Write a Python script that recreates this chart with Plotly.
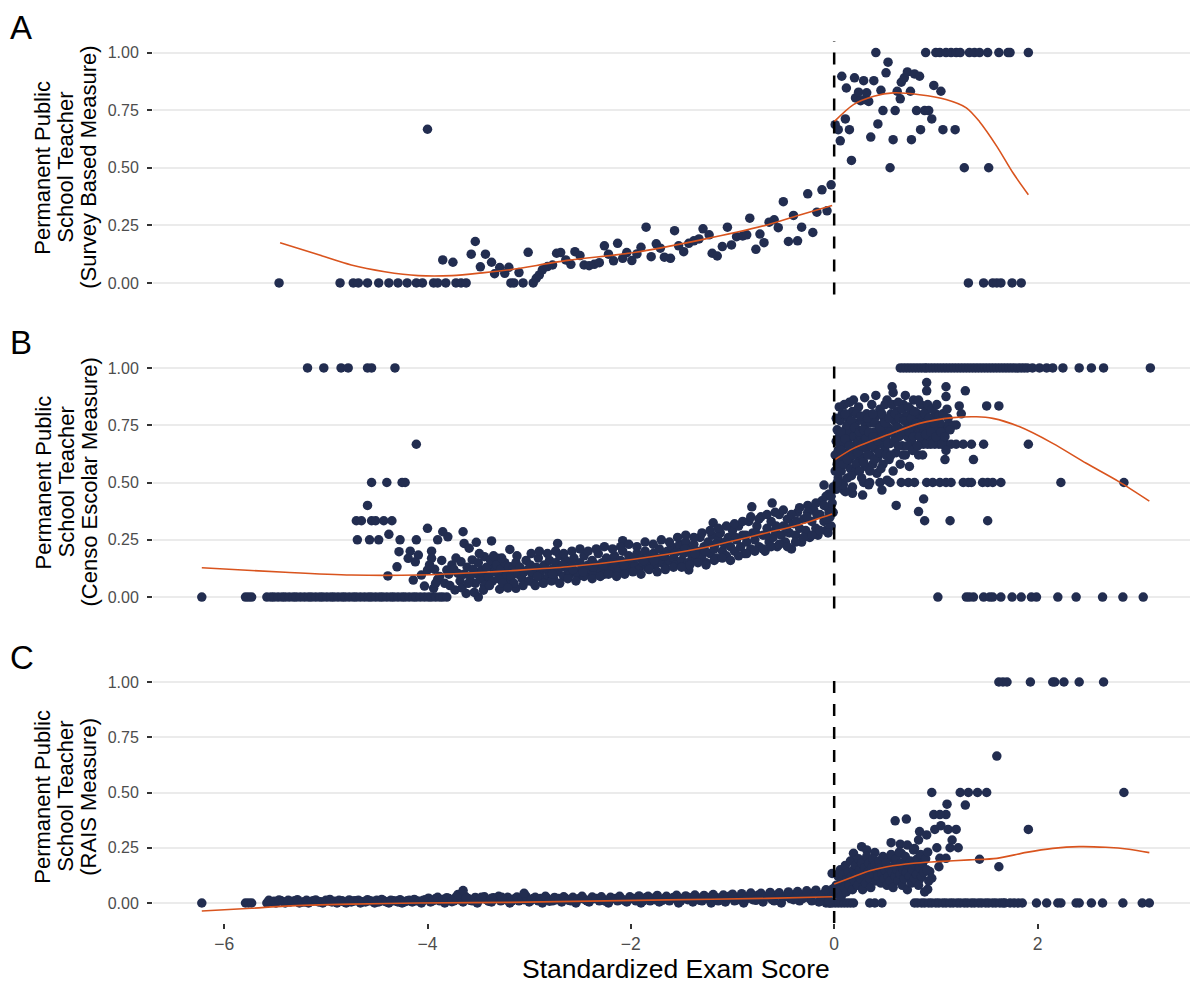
import plotly.graph_objects as go

# ---------------- data ----------------
# Panel A : Survey based measure
A_zero_x = [-5.46, -4.86, -4.73, -4.68, -4.59, -4.48, -4.38, -4.29, -4.20, -4.11, -4.05, -3.94,
            -3.90, -3.82, -3.72, -3.67, -3.62, -3.18, -3.15, -3.06, -2.96,
            1.32, 1.47, 1.56, 1.60, 1.64, 1.75, 1.84]
A_one_x = [0.41, 0.90, 1.00, 1.04, 1.10, 1.15, 1.20, 1.24, 1.33, 1.38, 1.43, 1.51, 1.62, 1.71, 1.73, 1.91]
A_pts = [(-4.00, 0.667), (-3.85, 0.10), (-3.75, 0.09), (-3.57, 0.125), (-3.53, 0.18), (-3.43, 0.125),
         (-3.48, 0.07), (-3.37, 0.09), (-3.34, 0.04), (-3.29, 0.067), (-3.24, 0.042), (-3.20, 0.068),
         (-3.10, 0.045), (-3.01, 0.133), (-2.93, 0.02), (-2.90, 0.035), (-2.87, 0.057), (-2.82, 0.071),
         (-2.77, 0.078), (-2.73, 0.129), (-2.69, 0.132), (-2.64, 0.10), (-2.59, 0.081), (-2.55, 0.136),
         (-2.50, 0.119), (-2.46, 0.078), (-2.41, 0.075), (-2.36, 0.081), (-2.31, 0.088), (-2.26, 0.161),
         (-2.22, 0.125), (-2.17, 0.096), (-2.13, 0.172), (-2.08, 0.107), (-2.04, 0.132), (-1.99, 0.097),
         (-1.94, 0.126), (-1.90, 0.155), (-1.85, 0.242), (-1.80, 0.114), (-1.75, 0.170), (-1.71, 0.151),
         (-1.67, 0.112), (-1.61, 0.107), (-1.57, 0.227), (-1.53, 0.161), (-1.48, 0.136), (-1.43, 0.172),
         (-1.38, 0.183), (-1.33, 0.191), (-1.29, 0.235), (-1.23, 0.209), (-1.20, 0.129), (-1.15, 0.117),
         (-1.10, 0.158), (-1.05, 0.242), (-1.01, 0.165), (-0.96, 0.201), (-0.90, 0.204), (-0.86, 0.209),
         (-0.83, 0.281), (-0.77, 0.146), (-0.73, 0.212), (-0.69, 0.175), (-0.64, 0.264), (-0.59, 0.274),
         (-0.55, 0.240), (-0.50, 0.353), (-0.45, 0.180), (-0.40, 0.293), (-0.36, 0.183), (-0.32, 0.242),
         (-0.26, 0.387), (-0.21, 0.219), (-0.17, 0.307), (-0.12, 0.404), (-0.07, 0.313), (-0.03, 0.426),
         (0.01, 0.687), (0.04, 0.665), (0.06, 0.617), (0.075, 0.897), (0.11, 0.712), (0.12, 0.846),
         (0.15, 0.665), (0.17, 0.532), (0.20, 0.89), (0.21, 0.803), (0.24, 0.828), (0.26, 0.791),
         (0.29, 0.878), (0.30, 0.796), (0.32, 0.825), (0.34, 0.788), (0.36, 0.633), (0.39, 0.878),
         (0.43, 0.69), (0.46, 0.836), (0.48, 0.748), (0.51, 0.912), (0.53, 0.958), (0.55, 0.5),
         (0.58, 0.622), (0.60, 0.748), (0.62, 0.832), (0.65, 0.799), (0.66, 0.871), (0.69, 0.89),
         (0.72, 0.916), (0.75, 0.832), (0.76, 0.622), (0.79, 0.907), (0.81, 0.748), (0.84, 0.897),
         (0.85, 0.665), (0.89, 0.748), (0.93, 0.748), (0.96, 0.712), (0.98, 0.857), (1.05, 0.832),
         (1.07, 0.665), (1.19, 0.665), (1.28, 0.5), (1.52, 0.5)]
A_fit_left_x = [-5.45, -5.07, -4.75, -4.42, -4.09, -3.76, -3.44, -3.18, -2.62, -1.97, -1.31, -0.66, -0.33, -0.02]
A_fit_left_y = [0.175, 0.122, 0.078, 0.049, 0.032, 0.032, 0.045, 0.058, 0.098, 0.132, 0.187, 0.252, 0.296, 0.336]
A_fit_right_x = [0.0, 0.19, 0.39, 0.58, 0.84, 1.10, 1.30, 1.43, 1.60, 1.76, 1.91]
A_fit_right_y = [0.70, 0.774, 0.81, 0.825, 0.817, 0.796, 0.76, 0.70, 0.593, 0.477, 0.383]

# Panel B : Censo Escolar measure
B_zero_x = [-6.22, -5.79, -5.76, -5.73, -5.58, -5.54, -5.51, -5.47, -5.43, -5.40, -5.36, -5.32, -5.29,
            -5.25, -5.21, -5.17, -5.14, -5.10, -5.06, -5.03, -4.99, -4.95, -4.92, -4.88, -4.84, -4.81,
            -4.77, -4.73, -4.70, -4.66, -4.62, -4.58, -4.55, -4.51, -4.47, -4.44, -4.40, -4.36, -4.33,
            -4.29, -4.25, -4.22, -4.18, -4.14, -4.11, -4.07, -4.03, -3.99, -3.96, -3.92, -3.88, -3.85,
            -3.81, -3.50, 1.02, 1.30, 1.33, 1.37, 1.47, 1.53, 1.56, 1.64, 1.75, 1.84, 1.94, 1.99, 2.20,
            2.38, 2.64, 2.84, 3.04]
B_one_x = [-5.18, -5.02, -4.85, -4.78, -4.59, -4.55, -4.32,
           0.65, 0.68, 0.71, 0.74, 0.77, 0.80, 0.83, 0.86, 0.89, 0.91, 0.94, 0.97, 1.00, 1.03, 1.06,
           1.09, 1.12, 1.15, 1.18, 1.21, 1.24, 1.27, 1.30, 1.33, 1.36, 1.39, 1.42, 1.45, 1.48, 1.51,
           1.54, 1.57, 1.60, 1.63, 1.66, 1.69, 1.72, 1.75, 1.78, 1.81, 1.84, 1.87, 1.90, 1.95, 2.02,
           2.09, 2.15, 2.25, 2.41, 2.53, 2.65, 3.11]
B_half_x = [-4.55, -4.40, -4.25, -4.22, 0.29, 0.35, 0.45, 0.55, 0.66, 0.73, 0.79, 0.91, 0.97, 1.04,
            1.10, 1.15, 1.27, 1.32, 1.35, 1.46, 1.51, 1.56, 1.64, 2.23, 2.85]
B_twothird_x = [-4.11, 0.85, 0.88, 0.92, 0.95, 0.99, 1.03, 1.06, 1.10, 1.15, 1.20, 1.27, 1.35, 1.47, 1.91]
B_third_x = [-4.70, -4.65, -4.55, -4.51, -4.43, -4.35, 0.89, 1.14, 1.51]
B_quarter_x = [-4.69, -4.57, -4.48, -4.27, -4.11, -3.90]
B_pts = [(-4.59, 0.40), (-4.38, 0.274), (-4.00, 0.30), (-3.85, 0.285), (-3.80, 0.263), (-3.65, 0.285),
         (-3.64, 0.234), (-3.52, 0.239), (-3.37, 0.245), (-4.28, 0.198), (-4.17, 0.20), (-4.09, 0.183),
         (-3.96, 0.20), (-3.96, 0.169), (-4.19, 0.169), (-4.12, 0.154), (-4.30, 0.132), (-4.39, 0.092),
         (-4.14, 0.074), (-4.06, 0.096), (-4.03, 0.048), (-4.00, 0.118), (-3.93, 0.121), (-3.94, 0.038),
         (-3.90, 0.077), (-3.83, 0.06), (-3.81, 0.118), (-3.76, 0.14), (-3.73, 0.031), (-3.70, 0.103),
         (-3.67, 0.154), (-3.62, 0.016), (-3.59, 0.213), (-3.56, 0.162), (-3.52, 0.103), (-3.47, 0.118),
         (-3.44, 0.176), (-3.41, 0.074), (-3.37, 0.132), (-3.31, 0.169), (-3.29, 0.034), (-3.26, 0.103),
         (-3.24, 0.074), (-3.19, 0.208), (-3.19, 0.132), (-3.88, 0.09), (-3.78, 0.05), (-3.74, 0.12),
         (-3.68, 0.07), (-3.64, 0.10), (-3.61, 0.13), (-3.13, 0.038), (-3.18, 0.074),
         (-3.58, 0.09), (-3.55, 0.12), (-3.53, 0.06), (-3.50, 0.15), (-3.48, 0.08), (-3.46, 0.11),
         (-3.44, 0.05), (-3.42, 0.13), (-3.40, 0.09), (-3.38, 0.16), (-3.36, 0.07), (-3.34, 0.11),
         (-3.32, 0.14), (-3.30, 0.08), (-3.28, 0.12), (-3.26, 0.06), (-3.24, 0.15), (-3.22, 0.10),
         (-3.20, 0.13), (-3.18, 0.09), (-3.16, 0.12), (-3.15, 0.06), (-3.13, 0.15), (-3.11, 0.10),
         (-3.09, 0.13), (-3.07, 0.08), (-3.05, 0.11), (-3.03, 0.16), (-3.01, 0.12), (-3.00, 0.07),
         (-2.99, 0.14), (-2.97, 0.10), (-2.95, 0.06), (-2.93, 0.13), (-2.91, 0.17), (-2.89, 0.11),
         (-2.87, 0.08), (-2.85, 0.14), (-2.83, 0.12), (-2.81, 0.09), (-2.80, 0.16), (-2.78, 0.12),
         (-2.76, 0.08), (-2.74, 0.15), (-2.72, 0.11), (-2.70, 0.18), (-2.68, 0.13), (-2.66, 0.09),
         (-2.64, 0.16), (-2.62, 0.12), (-2.60, 0.10), (-2.58, 0.14), (-2.56, 0.17), (-2.54, 0.11),
         (-2.52, 0.09), (-2.50, 0.15), (-2.48, 0.13), (-2.46, 0.18), (-2.44, 0.10), (-2.42, 0.14),
         (-2.40, 0.12), (-2.38, 0.16), (-2.36, 0.11), (-2.34, 0.14), (-2.32, 0.19), (-2.30, 0.12),
         (-2.28, 0.15), (-2.26, 0.10), (-2.24, 0.17), (-2.22, 0.13), (-2.20, 0.15), (-2.18, 0.12),
         (-2.16, 0.18), (-2.14, 0.14), (-2.12, 0.11), (-2.10, 0.16), (-2.08, 0.20), (-2.06, 0.13),
         (-2.04, 0.15), (-2.02, 0.18), (-2.00, 0.12), (-1.98, 0.16), (-1.96, 0.14), (-1.94, 0.19),
         (-1.92, 0.12), (-1.90, 0.17), (-1.88, 0.15), (-1.86, 0.20), (-1.84, 0.13), (-1.82, 0.17),
         (-1.80, 0.15), (-1.78, 0.19), (-1.76, 0.14), (-1.74, 0.17), (-1.72, 0.21), (-1.70, 0.15),
         (-1.68, 0.18), (-1.66, 0.13), (-1.64, 0.20), (-1.62, 0.16), (-1.60, 0.22), (-1.58, 0.17),
         (-1.56, 0.14), (-1.54, 0.20), (-1.52, 0.23), (-1.50, 0.16), (-1.48, 0.19), (-1.46, 0.24),
         (-1.44, 0.15), (-1.42, 0.21), (-1.40, 0.18), (-1.38, 0.23), (-1.36, 0.16), (-1.34, 0.20),
         (-1.32, 0.26), (-1.30, 0.18), (-1.28, 0.22), (-1.26, 0.15), (-1.24, 0.24), (-1.22, 0.19),
         (-1.20, 0.27), (-1.18, 0.21), (-1.16, 0.17), (-1.14, 0.25), (-1.12, 0.28), (-1.10, 0.20),
         (-1.08, 0.23), (-1.06, 0.18), (-1.04, 0.26), (-1.02, 0.22), (-1.00, 0.29), (-0.98, 0.20),
         (-0.96, 0.25), (-0.94, 0.31), (-0.92, 0.22), (-0.90, 0.27), (-0.88, 0.19), (-0.86, 0.24),
         (-0.84, 0.33), (-0.82, 0.21), (-0.80, 0.28), (-0.78, 0.25), (-0.76, 0.31), (-0.74, 0.22),
         (-0.72, 0.35), (-0.70, 0.27), (-0.68, 0.20), (-0.66, 0.30), (-0.64, 0.24), (-0.62, 0.33),
         (-0.60, 0.26), (-0.58, 0.29), (-0.56, 0.22), (-0.54, 0.36), (-0.52, 0.27), (-0.50, 0.31),
         (-0.48, 0.24), (-0.46, 0.34), (-0.44, 0.28), (-0.42, 0.21), (-0.40, 0.32), (-0.38, 0.27),
         (-0.36, 0.37), (-0.34, 0.30), (-0.32, 0.24), (-0.30, 0.34), (-0.28, 0.29), (-0.26, 0.40),
         (-0.24, 0.26), (-0.22, 0.33), (-0.20, 0.38), (-0.18, 0.30), (-0.16, 0.27), (-0.14, 0.36),
         (-0.12, 0.42), (-0.10, 0.33), (-0.08, 0.29), (-0.06, 0.39), (-0.05, 0.45), (-0.04, 0.35),
         (-0.03, 0.31), (-0.02, 0.41), (-0.01, 0.37), (-0.01, 0.48),
         (-2.72, 0.234), (-2.08, 0.246), (-1.43, 0.118), (-1.19, 0.324), (-0.10, 0.489), (-0.61, 0.41),
         (-0.81, 0.394), (-0.08, 0.44), (-0.05, 0.37), (-0.04, 0.31),
         (0.61, 0.40), (0.83, 0.373), (0.88, 0.428), (1.09, 0.60), (1.37, 0.60), (1.50, 0.834),
         (1.62, 0.834), (1.29, 0.90), (1.10, 0.918), (1.10, 0.875), (0.91, 0.936), (0.91, 0.90),
         (1.23, 0.834), (1.25, 0.80), (1.20, 0.751), (0.57, 0.918), (0.58, 0.892), (0.28, 0.445),
         (0.18, 0.453), (0.10, 0.464), (0.47, 0.467), (0.06, 0.50), (0.11, 0.46), (0.52, 0.51),
         (1.00, 0.75), (1.05, 0.75), (1.12, 0.75), (1.17, 0.75),
         (0.01, 0.62), (0.01, 0.55), (0.02, 0.68), (0.02, 0.47), (0.03, 0.73), (0.03, 0.58), (0.04, 0.64),
         (0.04, 0.52), (0.05, 0.70), (0.05, 0.60), (0.06, 0.77), (0.06, 0.66), (0.07, 0.55), (0.08, 0.80),
         (0.08, 0.62), (0.09, 0.71), (0.09, 0.49), (0.10, 0.84), (0.10, 0.67), (0.11, 0.58), (0.12, 0.74),
         (0.12, 0.63), (0.13, 0.52), (0.14, 0.69), (0.14, 0.78), (0.15, 0.60), (0.16, 0.72), (0.16, 0.56),
         (0.17, 0.65), (0.18, 0.81), (0.18, 0.48), (0.19, 0.70), (0.20, 0.62), (0.21, 0.76), (0.21, 0.55),
         (0.22, 0.67), (0.23, 0.73), (0.24, 0.59), (0.24, 0.83), (0.25, 0.64), (0.26, 0.70), (0.27, 0.52),
         (0.28, 0.77), (0.28, 0.61), (0.29, 0.68), (0.30, 0.74), (0.31, 0.57), (0.32, 0.80), (0.32, 0.65),
         (0.33, 0.71), (0.34, 0.49), (0.35, 0.62), (0.36, 0.76), (0.36, 0.68), (0.37, 0.84), (0.38, 0.58),
         (0.39, 0.72), (0.40, 0.65), (0.41, 0.79), (0.42, 0.54), (0.42, 0.70), (0.43, 0.61), (0.44, 0.75),
         (0.45, 0.82), (0.46, 0.67), (0.47, 0.72), (0.48, 0.58), (0.49, 0.78), (0.50, 0.64), (0.51, 0.70),
         (0.52, 0.86), (0.53, 0.74), (0.54, 0.60), (0.55, 0.67), (0.56, 0.80), (0.57, 0.72), (0.58, 0.55),
         (0.59, 0.77), (0.60, 0.69), (0.61, 0.63), (0.62, 0.81), (0.63, 0.74), (0.64, 0.70), (0.65, 0.58),
         (0.66, 0.78), (0.67, 0.66), (0.68, 0.84), (0.69, 0.73), (0.70, 0.62), (0.71, 0.79), (0.72, 0.70),
         (0.73, 0.76), (0.74, 0.57), (0.75, 0.82), (0.76, 0.68), (0.77, 0.74), (0.78, 0.86), (0.79, 0.65),
         (0.80, 0.77), (0.81, 0.71), (0.82, 0.80), (0.83, 0.62), (0.84, 0.74), (0.85, 0.84), (0.86, 0.68),
         (0.87, 0.78), (0.88, 0.72), (0.90, 0.81), (0.91, 0.67), (0.92, 0.75), (0.94, 0.70), (0.95, 0.78),
         (0.97, 0.67), (0.98, 0.73), (1.00, 0.80), (1.02, 0.69), (1.04, 0.76), (1.06, 0.67), (1.08, 0.72),
         (1.10, 0.64), (1.12, 0.78)]
# extra points that thicken the band below the cutoff and the cloud above it
B_pts_extra = [(-2.98, 0.19), (-2.94, 0.05), (-2.90, 0.20), (-2.86, 0.06), (-2.82, 0.19), (-2.78, 0.07),
               (-2.74, 0.20), (-2.70, 0.06), (-2.66, 0.19), (-2.62, 0.08), (-2.58, 0.20), (-2.54, 0.07),
               (-2.50, 0.21), (-2.46, 0.09), (-2.42, 0.20), (-2.38, 0.08), (-2.34, 0.21), (-2.30, 0.09),
               (-2.26, 0.22), (-2.22, 0.10), (-2.18, 0.21), (-2.14, 0.09), (-2.10, 0.22), (-2.06, 0.10),
               (-2.02, 0.23), (-1.98, 0.11), (-1.94, 0.22), (-1.90, 0.10), (-1.86, 0.24), (-1.82, 0.12),
               (-1.78, 0.23), (-1.74, 0.11), (-1.70, 0.25), (-1.66, 0.12), (-1.62, 0.24), (-1.58, 0.13),
               (-1.54, 0.26), (-1.50, 0.13), (-1.46, 0.27), (-1.42, 0.14), (-1.38, 0.26), (-1.34, 0.15),
               (-1.30, 0.28), (-1.26, 0.14), (-1.22, 0.29), (-1.18, 0.16), (-1.14, 0.30), (-1.10, 0.17),
               (-1.06, 0.31), (-1.02, 0.16), (-0.98, 0.32), (-0.94, 0.18), (-0.90, 0.33), (-0.86, 0.19),
               (-0.82, 0.35), (-0.78, 0.20), (-0.74, 0.34), (-0.70, 0.21), (-0.66, 0.36), (-0.62, 0.22),
               (-0.58, 0.37), (-0.54, 0.23), (-0.50, 0.38), (-0.46, 0.22), (-0.42, 0.36), (-0.38, 0.24),
               (-0.34, 0.39), (-0.30, 0.26), (-0.26, 0.37), (-0.22, 0.27), (-0.18, 0.41), (-0.14, 0.29),
               (-0.10, 0.40), (-0.06, 0.28), (-0.03, 0.44),
               (-2.97, 0.11), (-2.92, 0.09), (-2.87, 0.13), (-2.77, 0.10), (-2.67, 0.14), (-2.57, 0.12),
               (-2.47, 0.11), (-2.37, 0.13), (-2.27, 0.14), (-2.17, 0.15), (-2.07, 0.14), (-1.97, 0.17),
               (-1.87, 0.16), (-1.77, 0.16), (-1.67, 0.18), (-1.57, 0.19), (-1.47, 0.21), (-1.37, 0.19),
               (-1.27, 0.20), (-1.17, 0.23), (-1.07, 0.24), (-0.97, 0.26), (-0.87, 0.27), (-0.77, 0.28),
               (-0.67, 0.27), (-0.57, 0.31), (-0.47, 0.30), (-0.37, 0.33), (-0.27, 0.35), (-0.17, 0.36),
               (-0.07, 0.34),
               (-3.98, 0.14), (-3.92, 0.06), (-3.86, 0.16), (-3.79, 0.10), (-3.72, 0.17), (-3.66, 0.04),
               (-3.60, 0.06), (-3.54, 0.02), (-3.49, 0.19), (-3.45, 0.03), (-3.39, 0.05), (-3.35, 0.18),
               (-3.27, 0.17), (-3.21, 0.04), (-3.12, 0.18), (-3.06, 0.05),
               (0.02, 0.78), (0.03, 0.50), (0.05, 0.83), (0.07, 0.72), (0.07, 0.64), (0.09, 0.58),
               (0.11, 0.80), (0.11, 0.69), (0.13, 0.75), (0.13, 0.60), (0.15, 0.85), (0.15, 0.66),
               (0.17, 0.77), (0.17, 0.53), (0.19, 0.62), (0.19, 0.86), (0.20, 0.74), (0.22, 0.58),
               (0.22, 0.80), (0.23, 0.63), (0.25, 0.72), (0.25, 0.55), (0.26, 0.79), (0.27, 0.66),
               (0.29, 0.73), (0.29, 0.59), (0.30, 0.87), (0.31, 0.69), (0.33, 0.62), (0.33, 0.78),
               (0.34, 0.72), (0.35, 0.55), (0.37, 0.66), (0.38, 0.80), (0.38, 0.70), (0.40, 0.60),
               (0.40, 0.76), (0.41, 0.88), (0.43, 0.68), (0.44, 0.63), (0.45, 0.74), (0.46, 0.56),
               (0.47, 0.80), (0.48, 0.70), (0.50, 0.76), (0.50, 0.84), (0.51, 0.62), (0.53, 0.67),
               (0.54, 0.78), (0.55, 0.72), (0.56, 0.62), (0.57, 0.84), (0.59, 0.68), (0.60, 0.80),
               (0.61, 0.74), (0.63, 0.66), (0.63, 0.85), (0.64, 0.78), (0.66, 0.72), (0.67, 0.82),
               (0.68, 0.62), (0.69, 0.77), (0.70, 0.88), (0.72, 0.66), (0.73, 0.83), (0.74, 0.72),
               (0.76, 0.78), (0.77, 0.64), (0.78, 0.70), (0.79, 0.81), (0.81, 0.76), (0.82, 0.66),
               (0.83, 0.86), (0.84, 0.70), (0.86, 0.75), (0.87, 0.62), (0.89, 0.80), (0.90, 0.71),
               (0.92, 0.84), (0.93, 0.78), (0.95, 0.72), (0.96, 0.82), (0.98, 0.76), (1.00, 0.70),
               (1.01, 0.84), (1.03, 0.79), (1.05, 0.72), (1.07, 0.80), (1.09, 0.70), (1.11, 0.82),
               (1.14, 0.73)]
B_fit_left_x = [-6.22, -5.40, -4.75, -4.09, -3.44, -3.18, -2.62, -1.97, -1.31, -0.66, -0.33, -0.02]
B_fit_left_y = [0.128, 0.108, 0.096, 0.096, 0.108, 0.115, 0.132, 0.165, 0.213, 0.281, 0.317, 0.362]
B_fit_right_x = [0.0, 0.19, 0.52, 0.84, 1.17, 1.40, 1.56, 1.82, 2.15, 2.48, 2.80, 3.10]
B_fit_right_y = [0.598, 0.649, 0.707, 0.758, 0.783, 0.787, 0.78, 0.744, 0.671, 0.584, 0.504, 0.419]

# Panel C : RAIS measure
C_zero_x = [-6.22, -5.79, -5.76, -5.73,
            -0.08, -0.05, -0.02, 0.01, 0.04, 0.07, 0.10, 0.13, 0.16, 0.19, 0.35, 0.40, 0.47,
            0.79, 0.82, 0.86, 0.89, 0.93, 0.96, 1.00, 1.03, 1.07, 1.10, 1.14, 1.17, 1.21, 1.24, 1.28,
            1.31, 1.35, 1.38, 1.42, 1.45, 1.49, 1.52, 1.56, 1.59, 1.63, 1.66, 1.68, 1.73, 1.77, 1.81,
            1.85, 1.99, 2.09, 2.20, 2.23, 2.38, 2.41, 2.53, 2.64, 2.84, 3.03, 3.10]
C_one_x = [1.62, 1.66, 1.70, 1.93, 2.15, 2.17, 2.26, 2.41, 2.65]
C_half_x = [0.96, 1.24, 1.32, 1.41, 1.50, 2.85]
C_band = [(-5.58, 0.0), (-5.53, 0.005), (-5.49, 0.0), (-5.44, 0.01), (-5.40, 0.0), (-5.35, 0.005),
          (-5.30, 0.01), (-5.26, 0.0), (-5.21, 0.005), (-5.17, 0.0), (-5.12, 0.01), (-5.07, 0.005),
          (-5.03, 0.0), (-4.98, 0.01), (-4.94, 0.005), (-4.89, 0.0), (-4.84, 0.01), (-4.80, 0.0),
          (-4.75, 0.005), (-4.71, 0.01), (-4.66, 0.0), (-4.61, 0.005), (-4.57, 0.01), (-4.52, 0.0),
          (-4.48, 0.005), (-4.43, 0.01), (-4.38, 0.0), (-4.34, 0.01), (-4.29, 0.005), (-4.25, 0.0),
          (-4.20, 0.01), (-4.15, 0.005), (-4.11, 0.01), (-4.06, 0.0), (-4.02, 0.015), (-3.97, 0.005),
          (-3.92, 0.02), (-3.88, 0.01), (-3.83, 0.0), (-3.79, 0.02), (-3.74, 0.01), (-3.69, 0.015),
          (-3.65, 0.005), (-3.60, 0.02), (-3.56, 0.01), (-3.51, 0.0), (-3.46, 0.02), (-3.42, 0.015),
          (-3.37, 0.005), (-3.33, 0.02), (-3.28, 0.01), (-3.23, 0.015), (-3.19, 0.0), (-3.14, 0.02),
          (-3.10, 0.01), (-3.05, 0.015), (-3.00, 0.005), (-2.96, 0.02), (-2.91, 0.01), (-2.87, 0.0),
          (-2.82, 0.02), (-2.77, 0.01), (-2.73, 0.015), (-2.68, 0.005), (-2.64, 0.02), (-2.59, 0.01),
          (-2.54, 0.0), (-2.50, 0.02), (-2.45, 0.015), (-2.41, 0.005), (-2.36, 0.02), (-2.31, 0.01),
          (-2.27, 0.015), (-2.22, 0.0), (-2.18, 0.02), (-2.13, 0.01), (-2.08, 0.015), (-2.04, 0.005),
          (-1.99, 0.02), (-1.95, 0.01), (-1.90, 0.0), (-1.85, 0.025), (-1.81, 0.01), (-1.76, 0.015),
          (-1.72, 0.005), (-1.67, 0.02), (-1.62, 0.01), (-1.58, 0.025), (-1.53, 0.0), (-1.49, 0.02),
          (-1.44, 0.015), (-1.39, 0.005), (-1.35, 0.025), (-1.30, 0.01), (-1.26, 0.02), (-1.21, 0.0),
          (-1.16, 0.025), (-1.12, 0.015), (-1.07, 0.005), (-1.03, 0.03), (-0.98, 0.01), (-0.93, 0.025),
          (-0.89, 0.0), (-0.84, 0.03), (-0.80, 0.015), (-0.75, 0.035), (-0.70, 0.005), (-0.66, 0.03),
          (-0.61, 0.015), (-0.57, 0.035), (-0.52, 0.0), (-0.47, 0.03), (-0.43, 0.02), (-0.38, 0.04),
          (-0.34, 0.01), (-0.29, 0.035), (-0.24, 0.02), (-0.20, 0.045), (-0.15, 0.005), (-0.11, 0.04),
          (-0.06, 0.02), (-0.02, 0.05), (-0.04, 0.0), (-0.09, 0.03)]
C_band_extra = [(-5.56, 0.012), (-5.51, 0.008), (-5.46, 0.014), (-5.42, 0.006), (-5.37, 0.012),
                (-5.33, 0.008), (-5.28, 0.015), (-5.23, 0.005), (-5.19, 0.012), (-5.14, 0.008),
                (-5.10, 0.014), (-5.05, 0.006), (-5.00, 0.012), (-4.96, 0.016), (-4.91, 0.008),
                (-4.87, 0.012), (-4.82, 0.005), (-4.77, 0.014), (-4.73, 0.009), (-4.68, 0.013),
                (-4.64, 0.006), (-4.59, 0.015), (-4.54, 0.008), (-4.50, 0.012), (-4.45, 0.016),
                (-4.41, 0.006), (-4.36, 0.013), (-4.31, 0.009), (-4.27, 0.015), (-4.22, 0.006),
                (-4.18, 0.012), (-4.13, 0.016), (-4.08, 0.008), (-4.04, 0.013), (-3.99, 0.022),
                (-3.95, 0.01), (-3.90, 0.026), (-3.85, 0.016), (-3.81, 0.024), (-3.76, 0.006),
                (-3.72, 0.027), (-3.67, 0.02), (-3.63, 0.03), (-3.58, 0.012), (-3.53, 0.025),
                (-3.49, 0.018), (-3.44, 0.028), (-3.40, 0.008), (-3.35, 0.024), (-3.30, 0.03),
                (-3.26, 0.016), (-3.21, 0.026), (-3.17, 0.01), (-3.12, 0.027), (-3.07, 0.02),
                (-3.03, 0.03), (-2.98, 0.012), (-2.94, 0.026), (-2.89, 0.02), (-2.84, 0.03),
                (-2.80, 0.008), (-2.75, 0.025), (-2.71, 0.02), (-2.66, 0.028), (-2.61, 0.012),
                (-2.57, 0.026), (-2.52, 0.018), (-2.48, 0.03), (-2.43, 0.01), (-2.38, 0.027),
                (-2.34, 0.02), (-2.29, 0.028), (-2.25, 0.008), (-2.20, 0.026), (-2.15, 0.02),
                (-2.11, 0.03), (-2.06, 0.012), (-2.01, 0.028), (-1.97, 0.02), (-1.92, 0.032),
                (-1.88, 0.01), (-1.83, 0.03), (-1.78, 0.022), (-1.74, 0.034), (-1.69, 0.012),
                (-1.65, 0.03), (-1.60, 0.02), (-1.55, 0.035), (-1.51, 0.01), (-1.46, 0.032),
                (-1.42, 0.024), (-1.37, 0.036), (-1.32, 0.012), (-1.28, 0.034), (-1.23, 0.025),
                (-1.19, 0.038), (-1.14, 0.01), (-1.09, 0.036), (-1.05, 0.022), (-1.00, 0.04),
                (-0.95, 0.015), (-0.91, 0.042), (-0.86, 0.02), (-0.82, 0.045), (-0.77, 0.012),
                (-0.72, 0.044), (-0.68, 0.025), (-0.63, 0.048), (-0.59, 0.01), (-0.54, 0.046),
                (-0.50, 0.025), (-0.45, 0.05), (-0.40, 0.015), (-0.36, 0.052), (-0.31, 0.02),
                (-0.27, 0.055), (-0.22, 0.01), (-0.18, 0.058), (-0.13, 0.03), (-0.08, 0.06),
                (-0.05, 0.01), (-0.01, 0.065)]
C_pts = [(-3.70, 0.039), (-3.65, 0.056), (-3.62, 0.021), (-3.47, 0.026), (-3.37, 0.021), (-3.27, 0.026),
         (-3.05, 0.044), (-0.02, 0.134),
         (1.60, 0.665), (1.29, 0.443), (1.11, 0.447), (1.10, 0.40), (0.98, 0.40), (1.04, 0.40),
         (0.60, 0.372), (0.71, 0.38), (0.99, 0.333), (1.05, 0.35), (1.12, 0.333), (1.20, 0.333),
         (1.91, 0.333), (0.84, 0.323), (0.91, 0.308), (0.83, 0.285), (1.16, 0.285), (1.14, 0.25),
         (1.22, 0.25), (1.01, 0.25), (0.56, 0.273), (0.65, 0.266), (0.72, 0.262), (0.79, 0.247),
         (1.43, 0.198), (1.62, 0.164), (1.04, 0.202), (1.10, 0.202), (1.03, 0.164), (0.94, 0.142),
         (0.96, 0.112), (0.92, 0.062), (0.84, 0.107), (0.19, 0.225), (0.27, 0.255), (0.32, 0.24),
         (0.40, 0.228), (0.53, 0.202), (0.60, 0.195), (0.66, 0.225), (0.71, 0.187), (0.81, 0.195),
         (0.02, 0.08), (0.03, 0.04), (0.04, 0.12), (0.05, 0.06), (0.06, 0.15), (0.07, 0.03), (0.08, 0.10),
         (0.09, 0.13), (0.10, 0.07), (0.11, 0.17), (0.12, 0.05), (0.13, 0.11), (0.14, 0.14), (0.15, 0.08),
         (0.16, 0.19), (0.17, 0.12), (0.18, 0.06), (0.19, 0.15), (0.20, 0.10), (0.21, 0.17), (0.22, 0.13),
         (0.23, 0.08), (0.24, 0.20), (0.25, 0.15), (0.26, 0.11), (0.27, 0.18), (0.28, 0.06), (0.29, 0.13),
         (0.30, 0.16), (0.31, 0.09), (0.32, 0.21), (0.33, 0.14), (0.34, 0.18), (0.35, 0.11), (0.36, 0.07),
         (0.37, 0.16), (0.38, 0.20), (0.39, 0.13), (0.40, 0.17), (0.41, 0.10), (0.42, 0.15), (0.43, 0.12),
         (0.44, 0.19), (0.45, 0.16), (0.46, 0.09), (0.47, 0.13), (0.48, 0.21), (0.49, 0.11), (0.50, 0.15),
         (0.51, 0.18), (0.52, 0.08), (0.53, 0.12), (0.54, 0.16), (0.55, 0.10), (0.56, 0.22), (0.57, 0.14),
         (0.58, 0.07), (0.59, 0.17), (0.60, 0.12), (0.61, 0.20), (0.62, 0.15), (0.63, 0.10), (0.64, 0.23),
         (0.65, 0.13), (0.66, 0.18), (0.67, 0.08), (0.68, 0.15), (0.69, 0.11), (0.70, 0.21), (0.71, 0.14),
         (0.72, 0.06), (0.73, 0.17), (0.74, 0.12), (0.75, 0.19), (0.76, 0.09), (0.77, 0.15), (0.78, 0.24),
         (0.79, 0.11), (0.80, 0.17), (0.81, 0.13), (0.82, 0.20), (0.83, 0.08), (0.84, 0.16), (0.85, 0.22),
         (0.86, 0.12), (0.87, 0.18), (0.88, 0.14), (0.89, 0.05), (0.90, 0.20), (0.91, 0.15), (0.92, 0.23),
         (0.93, 0.10)]
C_fit_left_x = [-6.22, -5.73, -5.40, -4.75, -4.09, -3.18, -1.64, -0.66, -0.02]
C_fit_left_y = [-0.036, -0.024, -0.014, -0.005, 0.0, 0.003, 0.014, 0.021, 0.028]
C_fit_right_x = [0.0, 0.19, 0.35, 0.52, 0.78, 1.01, 1.33, 1.60, 1.89, 2.15, 2.41, 2.67, 2.90, 3.10]
C_fit_right_y = [0.086, 0.119, 0.146, 0.164, 0.18, 0.187, 0.195, 0.202, 0.229, 0.247, 0.255, 0.252, 0.243, 0.228]

Y_TICKS = [0, 0.25, 0.5, 0.75, 1.0]
Y_TICK_TEXT = ["0.00", "0.25", "0.50", "0.75", "1.00"]
X_TICKS = [-6, -4, -2, 0, 2]
PANEL_LABELS = ["A", "B", "C"]
Y_TITLES = [["Permanent Public", "School Teacher", "(Survey Based Measure)"],
            ["Permanent Public", "School Teacher", "(Censo Escolar Measure)"],
            ["Permanent Public", "School Teacher", "(RAIS Measure)"]]
X_TITLE = "Standardized Exam Score"

# ---------------- styling ----------------
NAVY = "#222D50"
ORANGE = "#D9541E"
FONT = "Liberation Sans, Arial, sans-serif"
W, H = 1190, 987
ML, MR, MT, MB = 153, 0, 41, 64
PW = W - ML - MR
PH = H - MT - MB


def build_points(zero_x, one_x, extra_rows, pts):
    xs, ys = [], []
    for x in zero_x:
        xs.append(x); ys.append(0.0)
    for x in one_x:
        xs.append(x); ys.append(1.0)
    for val, row in extra_rows:
        for x in row:
            xs.append(x); ys.append(val)
    for x, y in pts:
        xs.append(x); ys.append(y)
    return xs, ys


panels = [
    build_points(A_zero_x, A_one_x, [], A_pts),
    build_points(B_zero_x, B_one_x, [(0.5, B_half_x), (0.667, B_twothird_x), (0.333, B_third_x),
                                     (0.25, B_quarter_x)], B_pts + B_pts_extra),
    build_points(C_zero_x, C_one_x, [(0.5, C_half_x)], C_band + C_band_extra + C_pts),
]
fits = [
    (A_fit_left_x, A_fit_left_y, A_fit_right_x, A_fit_right_y),
    (B_fit_left_x, B_fit_left_y, B_fit_right_x, B_fit_right_y),
    (C_fit_left_x, C_fit_left_y, C_fit_right_x, C_fit_right_y),
]

fig = go.Figure()
axes = [("x", "y"), ("x2", "y2"), ("x3", "y3")]
for (xs, ys), (fx1, fy1, fx2, fy2), (xa, ya) in zip(panels, fits, axes):
    fig.add_trace(go.Scatter(x=xs, y=ys, mode="markers", xaxis=xa, yaxis=ya,
                             marker=dict(color=NAVY, size=9.5, line=dict(width=0)),
                             hoverinfo="skip"))
    for fx, fy in ((fx1, fy1), (fx2, fy2)):
        fig.add_trace(go.Scatter(x=fx, y=fy, mode="lines", xaxis=xa, yaxis=ya,
                                 line=dict(color=ORANGE, width=1.6, shape="spline", smoothing=0.8),
                                 hoverinfo="skip"))


def py_to_paper(py):
    return (H - MB - py) / PH


def px_to_paper(px):
    return (px - ML) / PW


panel_px = [(41.0, 294.5), (356.5, 608.5), (670.5, 923.0)]
y_ranges = [[-0.05, 1.05], [-0.05, 1.05], [-0.0905, 1.052]]

x_common = dict(range=[-6.7, 3.5], showgrid=False, zeroline=False, showline=False)
y_common = dict(tickmode="array", tickvals=Y_TICKS, ticktext=Y_TICK_TEXT, showgrid=True,
                gridcolor="#EBEBEB", gridwidth=2, zeroline=False, showline=False,
                ticks="outside", ticklen=5, tickwidth=1.5, tickcolor="#333333",
                ticklabelstandoff=5,
                tickfont=dict(family=FONT, size=16, color="#4D4D4D"))

layout = dict(
    width=W, height=H, margin=dict(l=ML, r=MR, t=MT, b=MB),
    paper_bgcolor="white", plot_bgcolor="white", showlegend=False,
    font=dict(family=FONT),
    xaxis=dict(**x_common, anchor="y", showticklabels=False, ticks=""),
    xaxis2=dict(**x_common, anchor="y2", showticklabels=False, ticks=""),
    xaxis3=dict(**x_common, anchor="y3", tickmode="array", tickvals=X_TICKS, ticks="outside",
                ticklen=5, tickwidth=1.5, tickcolor="#333333",
                tickfont=dict(family=FONT, size=17.5, color="#4D4D4D")),
)
for i, ((top, bot), yr) in enumerate(zip(panel_px, y_ranges)):
    key = "yaxis" if i == 0 else f"yaxis{i + 1}"
    layout[key] = dict(**y_common, domain=[py_to_paper(bot), min(1.0, py_to_paper(top))], range=yr,
                       anchor="x" if i == 0 else f"x{i + 1}")
fig.update_layout(**layout)

for xa, ya in axes:
    fig.add_shape(type="line", x0=0, x1=0, y0=0, y1=1, xref=xa, yref=f"{ya} domain",
                  line=dict(color="black", width=2.5, dash="12px,11px"), layer="above")

annotations = []
label_centers = [27, 342, 657]
for lab, cy in zip(PANEL_LABELS, label_centers):
    annotations.append(dict(text=lab, x=px_to_paper(8), y=py_to_paper(cy), xref="paper", yref="paper",
                            xanchor="left", yanchor="middle", showarrow=False,
                            font=dict(family=FONT, size=33, color="black")))
line_x = [43, 66, 89]
for (top, bot), lines in zip(panel_px, Y_TITLES):
    cy = (top + bot) / 2
    for lx, txt in zip(line_x, lines):
        annotations.append(dict(text=txt, x=px_to_paper(lx), y=py_to_paper(cy), xref="paper", yref="paper",
                                xanchor="center", yanchor="middle", textangle=-90, showarrow=False,
                                font=dict(family=FONT, size=22, color="black")))
annotations.append(dict(text=X_TITLE, x=px_to_paper(676), y=py_to_paper(969), xref="paper", yref="paper",
                        xanchor="center", yanchor="middle", showarrow=False, borderpad=0,
                        font=dict(family=FONT, size=26.5, color="black")))
fig.update_layout(annotations=annotations)

fig.write_html("out.html")
